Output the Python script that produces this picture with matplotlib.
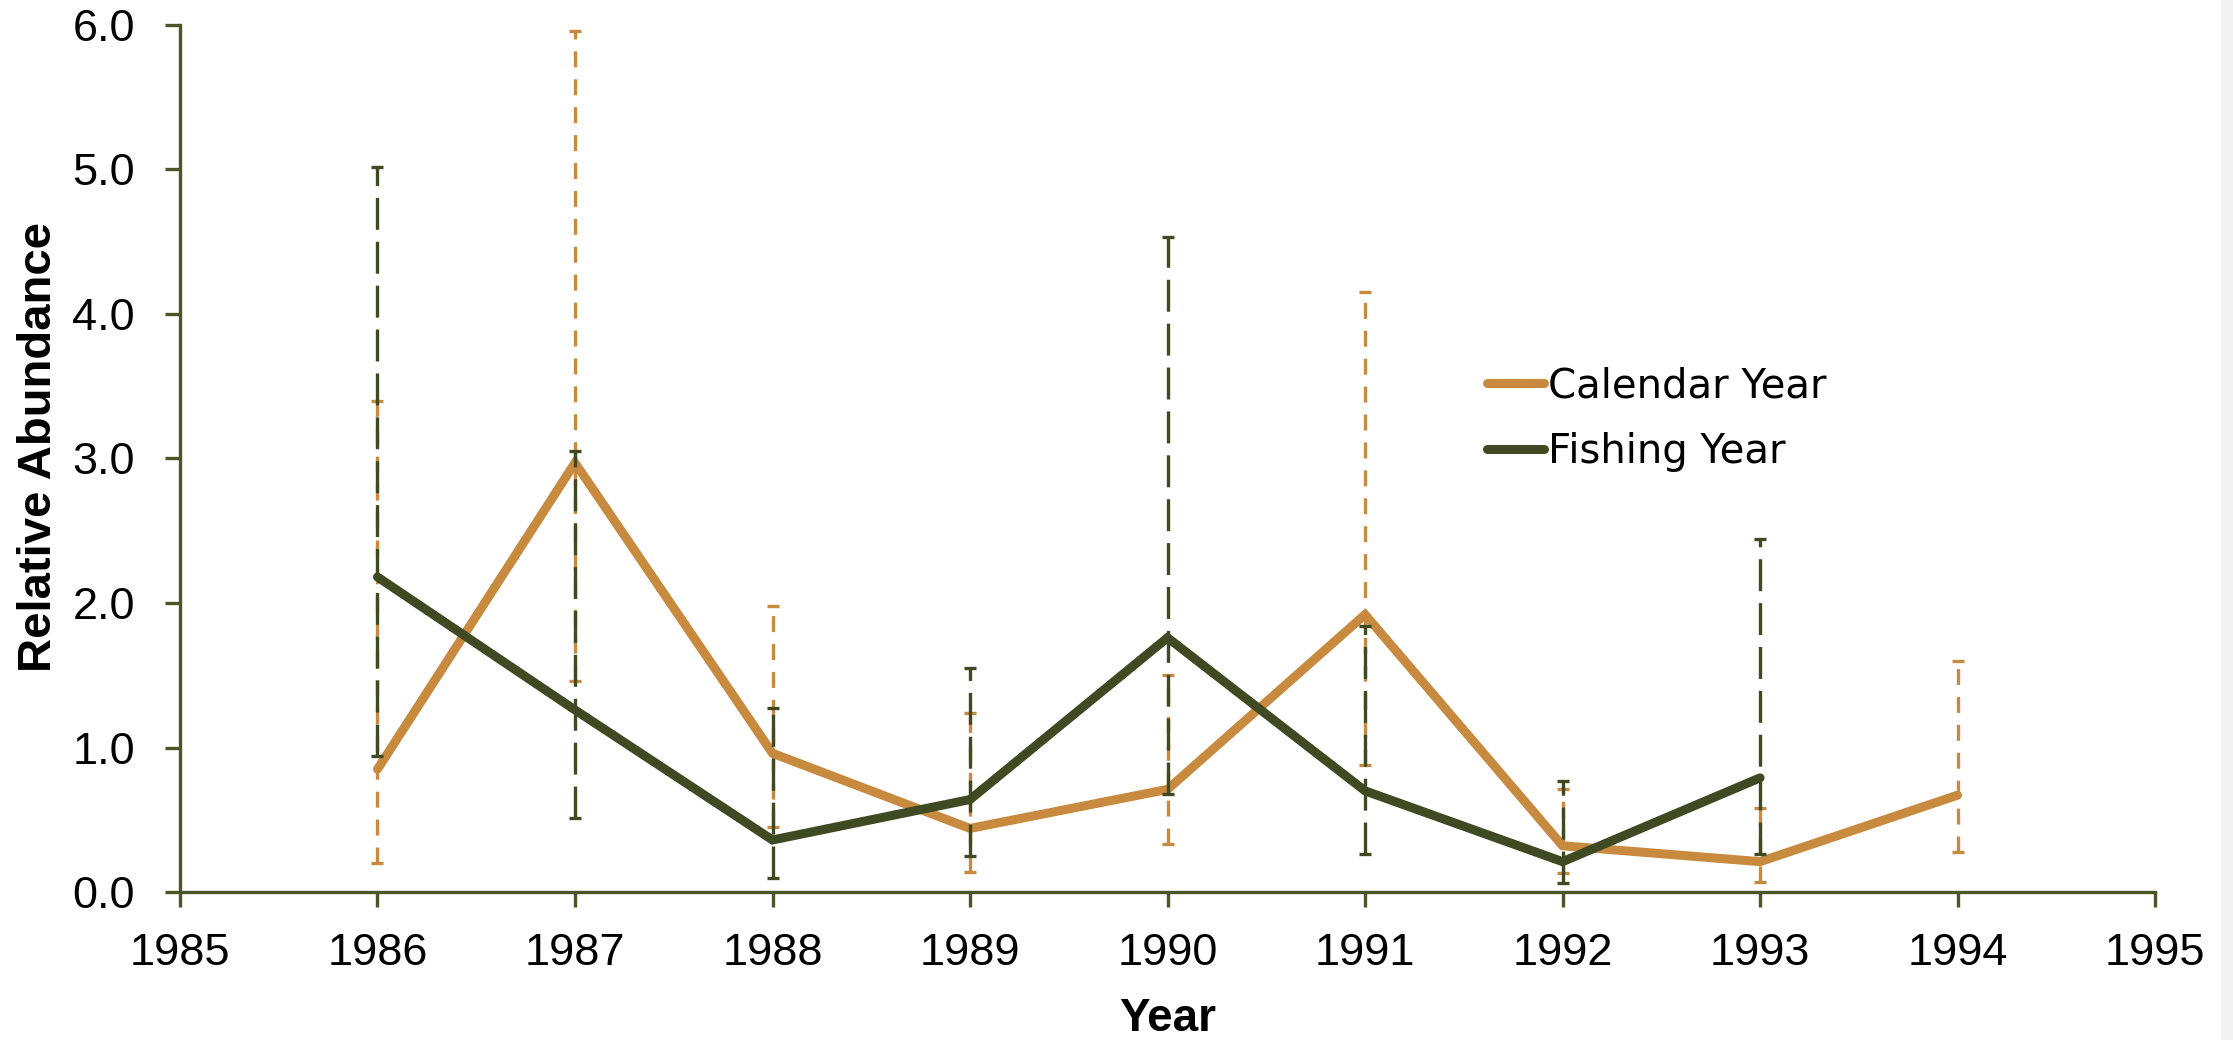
import matplotlib
matplotlib.use("Agg")
import matplotlib.pyplot as plt
import matplotlib.patches as mpatches
import numpy as np

plt.rcParams['font.family'] = ['Liberation Sans', 'DejaVu Sans']
plt.rcParams['lines.scale_dashes'] = False

orange = '#C88A3E'
olive = '#3F4A22'
axis_col = '#4A5528'

years_cal = [1986, 1987, 1988, 1989, 1990, 1991, 1992, 1993, 1994]
cal = [0.85, 2.97, 0.96, 0.44, 0.71, 1.92, 0.32, 0.21, 0.67]
cal_hi = [3.40, 5.96, 1.98, 1.24, 1.50, 4.15, 0.71, 0.58, 1.60]
cal_lo = [0.20, 1.46, 0.45, 0.14, 0.33, 0.88, 0.13, 0.07, 0.28]

years_fish = [1986, 1987, 1988, 1989, 1990, 1991, 1992, 1993]
fish = [2.18, 1.26, 0.36, 0.64, 1.76, 0.70, 0.21, 0.79]
fish_hi = [5.02, 3.05, 1.27, 1.55, 4.53, 1.84, 0.77, 2.44]
fish_lo = [0.94, 0.51, 0.10, 0.25, 0.68, 0.26, 0.06, 0.26]

fig = plt.figure(figsize=(22.33, 10.4), dpi=100)
ax = fig.add_axes([0.0806, 0.1423, 0.8845, 0.8337])

# strip of grey at the right edge
fig.patches.append(mpatches.Rectangle((2221 / 2233, 0), 12 / 2233, 1, transform=fig.transFigure,
                                      color='#F2F2F2', zorder=0))


def draw(x, y, lo, hi, color, dash, label, z):
    x = np.array(x)
    y = np.array(y)
    ax.plot(x, y, color=color, lw=6.5, label=label, solid_capstyle='round',
            solid_joinstyle='miter', zorder=z)
    err = [y - np.array(lo), np.array(hi) - y]
    _, caps, bars = ax.errorbar(x, y, yerr=err, fmt='none', ecolor=color, elinewidth=2.4,
                                capsize=4.5, capthick=2.4, zorder=z + 0.5)
    bars[0].set_linestyle((0, dash))


draw(years_cal, cal, cal_lo, cal_hi, orange, (11.5, 8.6), 'Calendar Year', 3)
draw(years_fish, fish, fish_lo, fish_hi, olive, (23, 8.6), 'Fishing Year', 4)

ax.set_xlim(1985, 1995)
ax.set_ylim(0, 6)
ax.set_xticks(np.arange(1985, 1996, 1))
ax.set_yticks(np.arange(0, 6.1, 1.0))
ax.set_yticklabels(['%.1f' % v for v in np.arange(0, 6.1, 1.0)])

for s in ['top', 'right']:
    ax.spines[s].set_visible(False)
for s in ['left', 'bottom']:
    ax.spines[s].set_color(axis_col)
    ax.spines[s].set_linewidth(2.4)
ax.tick_params(axis='both', direction='out', length=10.5, width=2.4, color=axis_col,
               labelsize=32.5)
ax.tick_params(axis='x', pad=19)
ax.tick_params(axis='y', pad=22)

ax.set_xlabel('Year', fontsize=33, fontweight='bold')
ax.set_ylabel('Relative Abundance', fontsize=34, fontweight='bold')
ax.xaxis.set_label_coords(0.5, -0.121)
ax.yaxis.set_label_coords(-0.060, 0.513)

ax.legend(loc='center left', bbox_to_anchor=(0.666, 0.597), bbox_transform=fig.transFigure,
          frameon=False, prop={'family': 'DejaVu Sans', 'size': 29}, handlelength=1.4,
          handletextpad=0.12, labelspacing=0.63, borderpad=0, borderaxespad=0)

fig.savefig('out.png', dpi=100)
